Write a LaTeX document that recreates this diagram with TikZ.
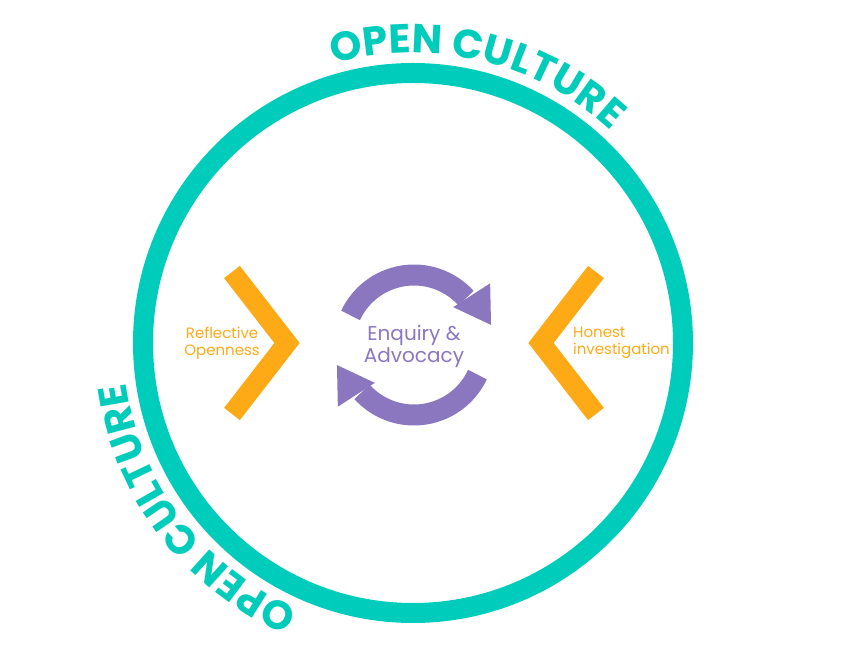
\documentclass[tikz,border=0pt]{standalone}
\usepackage{fontspec}
\setmainfont{Poppins}
\usetikzlibrary{positioning,decorations.text}
\definecolor{octeal}{RGB}{0,204,188}
\definecolor{ocpurple}{RGB}{139,118,192}
\definecolor{ocorange}{RGB}{253,170,22}
\newcommand\ringfont{\fontsize{40.5}{42}\selectfont\bfseries}
\newcommand\midfont{\fontsize{20}{22}\selectfont}
\newcommand\sidefont{\fontsize{15}{17}\selectfont}
\tikzset{
  ring/.style={draw=octeal,line width=20pt},
  chevron/.style={draw=ocorange,line width=20pt,line join=miter},
  cyclearc/.style={draw=ocpurple,line width=21pt},
  cyclehead/.style={fill=ocpurple},
  ringtext/.style={decorate,decoration={text along path,text align=center,
    text color=octeal,text={|\ringfont|OPEN CULTURE}}},
  sidetext/.style={font=\sidefont,text=ocorange,inner sep=0pt},
}
\begin{document}
\begin{tikzpicture}[x=1pt,y=1pt]
	\useasboundingbox (-413,-325) rectangle (435,343);
	% outer ring with its two labels
	\draw[ring] (0,0) circle[radius=270];
	\path[ringtext] (116.5:290) arc[start angle=116.5,end angle=36.5,radius=290];
	\path[ringtext] (257.3:290) arc[start angle=257.3,end angle=177.3,radius=290];
	% chevrons
	\coordinate (lapex) at (-126,0);
	\coordinate (rapex) at (128,0);
	\draw[chevron] (-181,71) -- (lapex) -- (-181,-71);
	\draw[chevron] (183,71) -- (rapex) -- (183,-71);
	\node(refl) [sidetext,align=center,left=27pt of lapex]{Reflective\\Openness};
	\node(hon) [sidetext,align=left,right=32pt of rapex]{Honest\\investigation};
	% cycle arrows
	\coordinate (cyc) at (1,-2);
	\draw[cyclearc] ([shift={(155:70)}]cyc) arc[start angle=155,end angle=42,radius=70];
	\fill[cyclehead] ([shift={(44:54.5)}]cyc) -- ([shift={(39:98)}]cyc) -- ([shift={(14.6:79.6)}]cyc) -- cycle;
	\draw[cyclearc] ([shift={(335:70)}]cyc) arc[start angle=335,end angle=222,radius=70];
	\fill[cyclehead] ([shift={(224:54.5)}]cyc) -- ([shift={(219:98)}]cyc) -- ([shift={(194.6:79.6)}]cyc) -- cycle;
	\node(enq) [align=center,font=\midfont,text=ocpurple,inner sep=0pt] at (1,-3.5){Enquiry \&\\Advocacy};
\end{tikzpicture}
\end{document}
